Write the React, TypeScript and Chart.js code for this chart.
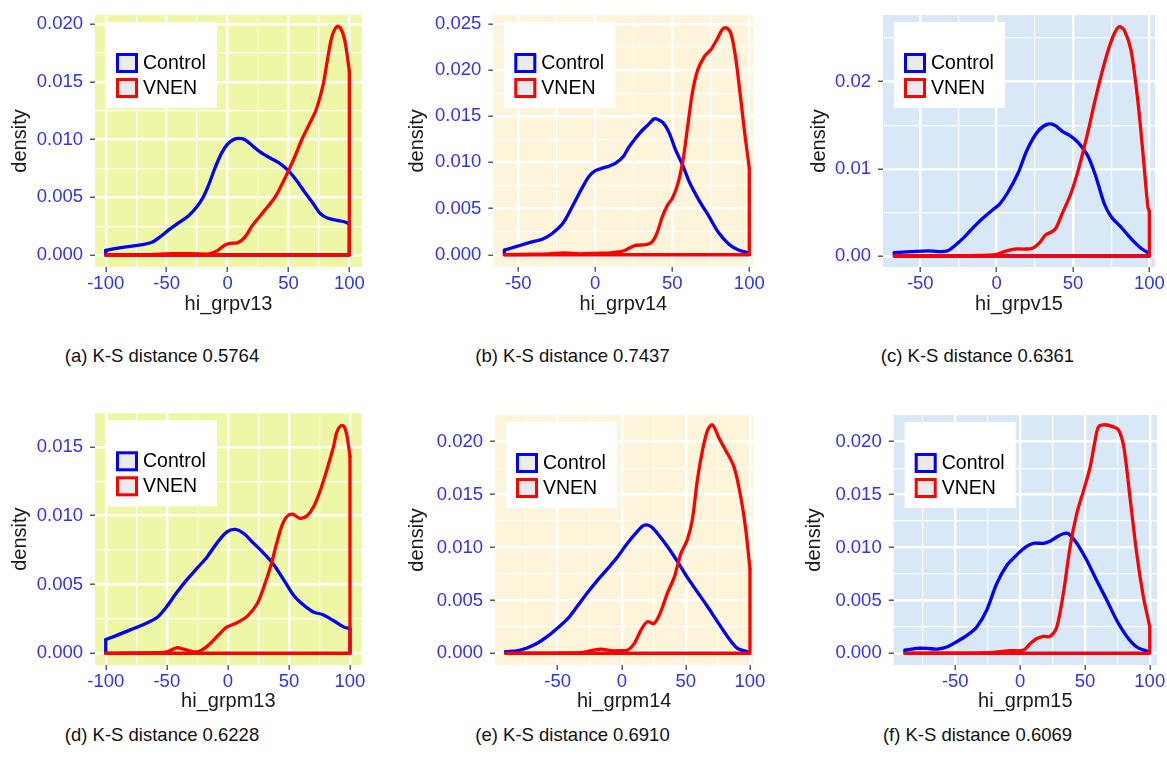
import React, { useEffect, useRef } from 'react';
import { Chart, registerables } from 'chart.js';

Chart.register(...registerables);

const FONT = '"Liberation Sans", Arial, Helvetica, sans-serif';

type Pt = [number, number];

// ---------------- data (x, density) ----------------
const controlV13: Pt[] = [
  [-100, 0.0004], [-90, 0.0006], [-80, 0.00075], [-70, 0.0009], [-62, 0.0011], [-55, 0.0016],
  [-48, 0.0022], [-40, 0.0028], [-32, 0.0034], [-25, 0.0042], [-20, 0.005], [-15, 0.0062],
  [-10, 0.0076], [-5, 0.0088], [0, 0.0096], [5, 0.01], [9, 0.0101], [14, 0.01], [20, 0.0095],
  [27, 0.0089], [35, 0.0084], [42, 0.008], [50, 0.0073], [57, 0.0064], [63, 0.0055], [70, 0.0045],
  [76, 0.0036], [82, 0.0032], [90, 0.003], [95, 0.0029], [100, 0.0027],
];
const vnenV13: Pt[] = [
  [-100, 0], [-70, 0.00002], [-55, 0.00008], [-45, 0.00012], [-35, 0.00012], [-25, 0.0001],
  [-15, 0.0001], [-8, 0.0004], [-3, 0.0008], [2, 0.001], [8, 0.00105], [12, 0.0013], [16, 0.0018],
  [20, 0.0025], [30, 0.0038], [39, 0.005], [45, 0.0062], [51, 0.0075], [56, 0.0087], [61, 0.01],
  [67, 0.0113], [72.5, 0.0125], [76, 0.0137], [79, 0.015], [83, 0.0175], [86, 0.019], [90, 0.0198],
  [93, 0.0196], [96, 0.0187], [98, 0.0175], [100, 0.0159],
];
const controlV14: Pt[] = [
  [-59, 0.0005], [-51, 0.0009], [-43, 0.0013], [-34, 0.0017], [-28, 0.0023], [-21, 0.0034],
  [-15, 0.0052], [-8, 0.0074], [-4, 0.0085], [0, 0.0091], [5, 0.0094], [9, 0.0096], [13, 0.0099],
  [18, 0.0106], [22, 0.0117], [29, 0.0132], [35, 0.0142], [38, 0.0147], [40, 0.0147], [44, 0.0143],
  [48, 0.0132], [52, 0.0114], [57, 0.0096], [61, 0.0079], [67, 0.006], [74, 0.0041], [80, 0.0024],
  [87, 0.0011], [93, 0.0005], [100, 0.0002],
];
const vnenV14: Pt[] = [
  [-59, 0], [-40, 0.00005], [-30, 0.0001], [-20, 0.0002], [-10, 0.0001], [0, 0.00015], [10, 0.0002],
  [15, 0.0003], [18, 0.0004], [22, 0.0007], [26, 0.001], [33, 0.0011], [37, 0.0014], [40, 0.0023],
  [43.5, 0.0041], [47, 0.0054], [50, 0.0061], [53.5, 0.0076], [57, 0.0103], [60, 0.0139],
  [63, 0.0175], [66.5, 0.02], [71, 0.0215], [75, 0.0222], [79, 0.0233], [82.5, 0.0244], [85, 0.0246],
  [88, 0.024], [91, 0.0215], [94.5, 0.0168], [97, 0.0132], [100, 0.0094],
];
const controlV15: Pt[] = [
  [-67, 0.0004], [-56, 0.0005], [-45, 0.0006], [-38, 0.0005], [-32, 0.0006], [-28, 0.0011],
  [-21, 0.0022], [-14.6, 0.0034], [-8, 0.0045], [-2.6, 0.0053], [1.7, 0.0059], [7, 0.0072],
  [14, 0.0095], [20, 0.0122], [27, 0.0143], [33, 0.0151], [38, 0.015], [43, 0.0143], [49, 0.0137],
  [54, 0.0129], [60, 0.0114], [65, 0.0091], [70.5, 0.006], [75, 0.0045], [81, 0.0034], [88, 0.002],
  [94.5, 0.0009], [100, 0.0003],
];
const vnenV15: Pt[] = [
  [-67, 0], [-40, 0.00003], [-20, 0.00005], [-5, 0.0001], [0, 0.0002], [5, 0.0005], [11.6, 0.0008],
  [18, 0.0008], [23.6, 0.0009], [28, 0.0015], [32, 0.0024], [38, 0.003], [43, 0.0049], [48.7, 0.0072],
  [54, 0.0102], [59.6, 0.0141], [64, 0.0175], [68.3, 0.0206], [72.7, 0.0234], [77, 0.0255],
  [80.3, 0.0263], [83.6, 0.0259], [88, 0.0236], [92.4, 0.0179], [95.6, 0.0122], [99, 0.0057],
  [100, 0.0051],
];
const controlM13: Pt[] = [
  [-100, 0.001], [-91, 0.0013], [-80, 0.0017], [-69, 0.0021], [-58, 0.0026], [-50, 0.0034],
  [-42, 0.0044], [-34, 0.0053], [-25, 0.0062], [-17, 0.007], [-9, 0.008], [-1, 0.0088], [6, 0.009],
  [13, 0.0087], [21, 0.008], [29, 0.0073], [37, 0.0065], [46, 0.0053], [54, 0.0042], [62, 0.0035],
  [70, 0.003], [78, 0.0028], [86, 0.0024], [95, 0.0019], [100, 0.0018],
];
const vnenM13: Pt[] = [
  [-100, 0], [-70, 0.00002], [-58, 0.00005], [-50, 0.0001], [-42, 0.0004], [-34, 0.00024],
  [-25, 0.0001], [-17, 0.0005], [-9, 0.0012], [-1, 0.0019], [7, 0.0022], [16, 0.0027], [24, 0.0036],
  [29, 0.0047], [35, 0.0063], [40, 0.008], [44, 0.0092], [48, 0.0099], [53, 0.0101], [59, 0.0098],
  [65, 0.01], [70, 0.0106], [76, 0.0119], [81, 0.0133], [86.5, 0.015], [89, 0.016], [92, 0.0165],
  [95, 0.0165], [97.5, 0.0158], [100, 0.0143],
];
const controlM14: Pt[] = [
  [-90.5, 0.00016], [-81, 0.00025], [-74, 0.0005], [-66, 0.00095], [-58, 0.0016], [-50, 0.0024],
  [-42, 0.0033], [-35, 0.0044], [-27, 0.0057], [-19, 0.0069], [-11, 0.008], [-3.4, 0.0091],
  [4.4, 0.0104], [12, 0.0115], [17.4, 0.0121], [22.6, 0.012], [28, 0.0113], [35.6, 0.0101],
  [43.4, 0.0087], [51, 0.0072], [59, 0.0058], [67, 0.0044], [74.6, 0.003], [82.4, 0.0016],
  [90, 0.0005], [99.5, 0.0001],
];
const vnenM14: Pt[] = [
  [-90.5, 0], [-50, 0.00003], [-30, 0.0001], [-24, 0.00025], [-16, 0.0004], [-8.6, 0.00025],
  [-1, 0.00025], [4.4, 0.0003], [9.6, 0.0009], [15, 0.0022], [20, 0.003], [25, 0.0028], [30, 0.0038],
  [35.6, 0.0057], [41, 0.0072], [46, 0.0094], [51, 0.0107], [55, 0.0126], [59, 0.0164], [63, 0.0192],
  [67, 0.0211], [70.7, 0.0216], [76, 0.0203], [81, 0.0192], [87.6, 0.0176], [92.8, 0.0148],
  [96.7, 0.0117], [100, 0.008],
];
const controlM15: Pt[] = [
  [-88.8, 0.0003], [-80, 0.00047], [-72, 0.00047], [-64, 0.0004], [-56.6, 0.0006], [-49, 0.0011],
  [-41, 0.0017], [-33.4, 0.0025], [-25.7, 0.0041], [-18, 0.0066], [-10.3, 0.0083], [-2.6, 0.0093],
  [5, 0.0101], [10.3, 0.0104], [18, 0.0104], [23, 0.0106], [28.3, 0.011], [33.4, 0.0113],
  [37.3, 0.0113], [43.7, 0.0104], [51.4, 0.0088], [59, 0.0069], [67, 0.005], [74.6, 0.0031],
  [82.3, 0.0016], [90, 0.0006], [99, 0.00016],
];
const vnenM15: Pt[] = [
  [-88.8, 0], [-40, 0.00003], [-20, 0.0001], [-7.7, 0.00025], [2.6, 0.0003], [7.7, 0.0009],
  [13, 0.0014], [18, 0.0016], [23, 0.0016], [28.3, 0.0025], [33.4, 0.0057], [38.6, 0.0101],
  [43.7, 0.0132], [49, 0.0154], [54, 0.0176], [58, 0.0202], [60.5, 0.0214], [65.6, 0.0216],
  [72, 0.0214], [76, 0.0211], [80, 0.0195], [85, 0.0145], [90, 0.0094], [95, 0.0054], [99, 0.0031],
  [100, 0.0025],
];

const X_TITLES = ['hi_grpv13', 'hi_grpv14', 'hi_grpv15', 'hi_grpm13', 'hi_grpm14', 'hi_grpm15'];
const CAPTIONS = [
  '(a) K-S distance 0.5764', '(b) K-S distance 0.7437', '(c) K-S distance 0.6361',
  '(d) K-S distance 0.6228', '(e) K-S distance 0.6910', '(f) K-S distance 0.6069',
];
const LEGEND_LABELS = ['Control', 'VNEN'];
const Y_TITLE = 'density';

// tick values (major labelled, minor only gridlines)
const X_MAJOR_100 = [-100, -50, 0, 50, 100];
const X_MINOR_100 = [-75, -25, 25, 75];
const X_MAJOR_50 = [-50, 0, 50, 100];
const X_MINOR_50 = [-25, 25, 75];
const X_MINOR_75 = [-75, -25, 25, 75];
const Y_MAJOR_020 = [0, 0.005, 0.01, 0.015, 0.02];
const Y_MINOR_020 = [0.0025, 0.0075, 0.0125, 0.0175];
const Y_MAJOR_025 = [0, 0.005, 0.01, 0.015, 0.02, 0.025];
const Y_MINOR_025 = [0.0025, 0.0075, 0.0125, 0.0175, 0.0225];
const Y_MAJOR_02 = [0, 0.01, 0.02];
const Y_MINOR_02 = [0.005, 0.015, 0.025];
const Y_MAJOR_015 = [0, 0.005, 0.01, 0.015];
const Y_MINOR_015 = [0.0025, 0.0075, 0.0125];

// ---------------- styles ----------------
const CONTROL_COLOR = '#0000ff';
const VNEN_COLOR = '#ff0000';
const TICK_LABEL_COLOR = '#3030ff';
const TITLE_COLOR = '#1a1a1a';
const BG_YELLOW = '#edf7a6';
const BG_CREAM = '#fdf4d9';
const BG_BLUE = '#d9e8f7';
const TICK_SIZE = 18.5;
const TITLE_SIZE = 20;
const LEGEND_SIZE = 19.5;
const LH = TITLE_SIZE * 1.2;

type PanelCfg = {
  control: Pt[]; vnen: Pt[]; title: string; caption: string;
  xMajor: number[]; xMinor: number[]; yMajor: number[]; yMinor: number[]; yDec: number;
  xMin: number; xMax: number; yMin: number; yMax: number; bg: string;
  L: number; T: number; R: number; B: number; yTitleX: number; xTitleY: number;
  capX: number; capTop: number;
};

const PANELS: PanelCfg[] = [
  { control: controlV13, vnen: vnenV13, title: X_TITLES[0], caption: CAPTIONS[0],
    xMajor: X_MAJOR_100, xMinor: X_MINOR_100, yMajor: Y_MAJOR_020, yMinor: Y_MINOR_020, yDec: 3,
    xMin: -108.8, xMax: 110.4, yMin: -0.00104, yMax: 0.02078, bg: BG_YELLOW,
    L: 95, T: 15, R: 362, B: 267, yTitleX: 20.7, xTitleY: 304, capX: 162, capTop: 345 },
  { control: controlV14, vnen: vnenV14, title: X_TITLES[1], caption: CAPTIONS[1],
    xMajor: X_MAJOR_50, xMinor: X_MINOR_50, yMajor: Y_MAJOR_025, yMinor: Y_MINOR_025, yDec: 3,
    xMin: -66.2, xMax: 102.6, yMin: -0.0013, yMax: 0.02597, bg: BG_CREAM,
    L: 493.3, T: 15, R: 753.3, B: 266.7, yTitleX: 417.3, xTitleY: 304, capX: 572.5, capTop: 345 },
  { control: controlV15, vnen: vnenV15, title: X_TITLES[2], caption: CAPTIONS[2],
    xMajor: X_MAJOR_50, xMinor: X_MINOR_50, yMajor: Y_MAJOR_02, yMinor: Y_MINOR_02, yDec: 2,
    xMin: -74.4, xMax: 103.7, yMin: -0.00126, yMax: 0.02765, bg: BG_BLUE,
    L: 883, T: 15, R: 1155, B: 267, yTitleX: 819.3, xTitleY: 304, capX: 977.5, capTop: 345 },
  { control: controlM13, vnen: vnenM13, title: X_TITLES[3], caption: CAPTIONS[3],
    xMajor: X_MAJOR_100, xMinor: X_MINOR_100, yMajor: Y_MAJOR_015, yMinor: Y_MINOR_015, yDec: 3,
    xMin: -108.8, xMax: 109.6, yMin: -0.00085, yMax: 0.01743, bg: BG_YELLOW,
    L: 95, T: 413.3, R: 361.7, B: 665, yTitleX: 20.8, xTitleY: 701, capX: 162, capTop: 724 },
  { control: controlM14, vnen: vnenM14, title: X_TITLES[4], caption: CAPTIONS[4],
    xMajor: X_MAJOR_50, xMinor: X_MINOR_75, yMajor: Y_MAJOR_020, yMinor: Y_MINOR_020, yDec: 3,
    xMin: -98.9, xMax: 102.6, yMin: -0.0011, yMax: 0.02252, bg: BG_CREAM,
    L: 495, T: 415, R: 753.3, B: 665, yTitleX: 417.5, xTitleY: 701, capX: 572.5, capTop: 724 },
  { control: controlM15, vnen: vnenM15, title: X_TITLES[5], caption: CAPTIONS[5],
    xMajor: X_MAJOR_50, xMinor: X_MINOR_75, yMajor: Y_MAJOR_020, yMinor: Y_MINOR_020, yDec: 3,
    xMin: -97.5, xMax: 105.6, yMin: -0.0011, yMax: 0.02252, bg: BG_BLUE,
    L: 893.7, T: 415, R: 1157, B: 665, yTitleX: 814.3, xTitleY: 701, capX: 977.5, capTop: 724 },
];

const has = (arr: number[], v: number) => arr.some((m) => Math.abs(m - v) < 1e-9);

function toXY(pts: Pt[]) {
  return pts.map(([x, y]) => ({ x, y }));
}
function closure(pts: Pt[]) {
  const first = pts[0];
  const last = pts[pts.length - 1];
  return [
    { x: last[0], y: last[1] }, { x: last[0], y: 0 }, { x: first[0], y: 0 }, { x: first[0], y: first[1] },
  ];
}

function Panel({ p }: { p: PanelCfg }) {
  const ref = useRef<HTMLCanvasElement>(null);
  const cl = Math.floor(p.yTitleX - 16);
  const ct = Math.floor(p.T - 10);
  const cr = Math.ceil(p.R + 18);
  const cb = Math.ceil(p.B + 56);
  const cw = cr - cl;
  const ch = cb - ct;
  const yAxisW = p.L - cl;
  const xAxisH = cb - p.B;
  const padTop = p.T - ct;
  const padRight = cr - p.R;
  const yTitlePad = p.yTitleX - cl - LH / 2;
  const xTitlePad = cb - p.xTitleY - LH / 2;

  useEffect(() => {
    if (!ref.current) return;
    const xTicks = [...p.xMajor, ...p.xMinor].sort((a, b) => a - b);
    const yTicks = [...p.yMajor, ...p.yMinor].sort((a, b) => a - b);
    const lineBase = { showLine: true, pointRadius: 0, borderWidth: 3.3, fill: false, borderJoinStyle: 'round' as const, borderCapStyle: 'round' as const };
    const datasets: any[] = [
      { ...lineBase, label: LEGEND_LABELS[1], data: toXY(p.vnen), borderColor: VNEN_COLOR, tension: 0.3 },
      { ...lineBase, label: LEGEND_LABELS[1] + ' base', data: closure(p.vnen), borderColor: VNEN_COLOR, tension: 0 },
      { ...lineBase, label: LEGEND_LABELS[0], data: toXY(p.control), borderColor: CONTROL_COLOR, tension: 0.3 },
      { ...lineBase, label: LEGEND_LABELS[0] + ' base', data: closure(p.control), borderColor: CONTROL_COLOR, tension: 0 },
    ];

    const bgPlugin = {
      id: 'panelBg',
      beforeDraw(chart: any) {
        const { ctx, chartArea: a } = chart;
        ctx.save();
        ctx.fillStyle = p.bg;
        ctx.fillRect(a.left, a.top, a.right - a.left, a.bottom - a.top);
        ctx.restore();
      },
    };
    const legendPlugin = {
      id: 'ggLegend',
      afterDraw(chart: any) {
        const { ctx, chartArea: a } = chart;
        const bx = a.left + 11;
        const by = a.top + 7;
        ctx.save();
        ctx.fillStyle = '#ffffff';
        ctx.fillRect(bx, by, 111, 86);
        const colors = [CONTROL_COLOR, VNEN_COLOR];
        LEGEND_LABELS.forEach((lab, i) => {
          const kx = bx + 10;
          const ky = by + 31 + i * 25;
          ctx.fillStyle = '#ebebeb';
          ctx.fillRect(kx, ky, 22, 20);
          ctx.strokeStyle = colors[i];
          ctx.lineWidth = 3;
          ctx.strokeRect(kx + 1.5, ky + 1.5, 19, 17);
          ctx.fillStyle = '#000000';
          ctx.font = `${LEGEND_SIZE}px ${FONT}`;
          ctx.textBaseline = 'middle';
          ctx.textAlign = 'left';
          ctx.fillText(lab, kx + 27, ky + 10.5);
        });
        ctx.restore();
      },
    };

    const zeroPad = (s: any) => { s.paddingLeft = 0; s.paddingRight = 0; s.paddingTop = 0; s.paddingBottom = 0; };

    const chart = new Chart(ref.current, {
      type: 'scatter',
      data: { datasets },
      plugins: [bgPlugin, legendPlugin],
      options: {
        responsive: false,
        animation: false,
        devicePixelRatio: 1,
        events: [],
        layout: { padding: { left: 0, top: padTop, right: padRight, bottom: 0 } },
        plugins: { legend: { display: false }, tooltip: { enabled: false } },
        scales: {
          x: {
            type: 'linear', min: p.xMin, max: p.xMax, bounds: 'data',
            afterBuildTicks: (s: any) => { s.ticks = xTicks.map((v) => ({ value: v })); },
            afterFit: (s: any) => { s.height = xAxisH; zeroPad(s); },
            ticks: {
              autoSkip: false, maxRotation: 0, minRotation: 0, padding: 1, color: TICK_LABEL_COLOR,
              font: { family: FONT, size: TICK_SIZE },
              callback: (v: any) => (has(p.xMajor, Number(v)) ? String(v) : ''),
            },
            grid: {
              color: '#ffffff',
              lineWidth: (c: any) => (c.tick && has(p.xMajor, c.tick.value) ? 2.4 : 1.2),
              tickLength: 5,
              tickWidth: 1.3,
              tickColor: (c: any) => (c.tick && has(p.xMajor, c.tick.value) ? '#444444' : 'rgba(0,0,0,0)'),
            },
            border: { display: false },
            title: { display: true, text: p.title, color: TITLE_COLOR, font: { family: FONT, size: TITLE_SIZE }, padding: { top: 0, bottom: xTitlePad } },
          },
          y: {
            type: 'linear', min: p.yMin, max: p.yMax, bounds: 'data',
            afterBuildTicks: (s: any) => { s.ticks = yTicks.map((v) => ({ value: v })); },
            afterFit: (s: any) => { s.width = yAxisW; zeroPad(s); },
            ticks: {
              autoSkip: false, padding: 7, color: TICK_LABEL_COLOR,
              font: { family: FONT, size: TICK_SIZE },
              callback: (v: any) => (has(p.yMajor, Number(v)) ? Number(v).toFixed(p.yDec) : ''),
            },
            grid: {
              color: '#ffffff',
              lineWidth: (c: any) => (c.tick && has(p.yMajor, c.tick.value) ? 2.4 : 1.2),
              tickLength: 5,
              tickWidth: 1.3,
              tickColor: (c: any) => (c.tick && has(p.yMajor, c.tick.value) ? '#444444' : 'rgba(0,0,0,0)'),
            },
            border: { display: false },
            title: { display: true, text: Y_TITLE, color: TITLE_COLOR, font: { family: FONT, size: TITLE_SIZE }, padding: { top: yTitlePad, bottom: 0 } },
          },
        },
      } as any,
    });
    return () => chart.destroy();
  }, []);

  return (
    <>
      <canvas
        ref={ref}
        width={cw}
        height={ch}
        style={{ position: 'absolute', left: cl, top: ct, width: cw, height: ch }}
      />
      <div
        style={{
          position: 'absolute', left: p.capX, top: p.capTop, transform: 'translateX(-50%)',
          whiteSpace: 'nowrap', fontFamily: FONT, fontSize: 18.5, lineHeight: '21px', color: '#111',
        }}
      >
        {p.caption}
      </div>
    </>
  );
}

export default function App() {
  return (
    <div
      style={{
        position: 'absolute', left: 0, top: 0, width: 1167, height: 759, overflow: 'hidden', background: '#ffffff',
      }}
    >
      {PANELS.map((p, i) => (
        <Panel key={i} p={p} />
      ))}
    </div>
  );
}
